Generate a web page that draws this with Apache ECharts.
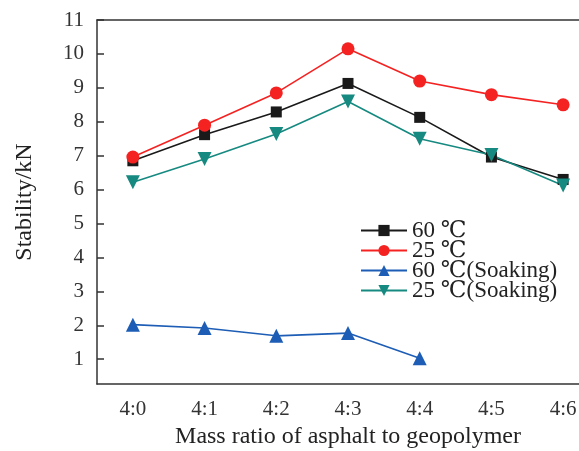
<!DOCTYPE html>
<html><head><meta charset="utf-8">
<script src="https://cdn.jsdelivr.net/npm/echarts@6/dist/echarts.min.js"></script>
<style>html,body{margin:0;padding:0;background:#fff}#c{width:579px;height:451px}</style>
</head><body><div id="c"></div>
<script>
const categories = ['4:0','4:1','4:2','4:3','4:4','4:5','4:6'];
const yTicks = [1,2,3,4,5,6,7,8,9,10,11];
const s60 = [6.85, 7.62, 8.29, 9.13, 8.13, 6.96, 6.3];
const s25 = [6.96, 7.9, 8.85, 10.15, 9.2, 8.8, 8.5];
const s60soak = [2.02, 1.92, 1.69, 1.77, 1.03, null, null];
const s25soak = [6.22, 6.9, 7.64, 8.6, 7.5, 7.02, 6.12];
const names = ['60 ℃','25 ℃','60 ℃(Soaking)','25 ℃(Soaking)'];

const font = '"Liberation Serif", "DejaVu Serif", serif';
const axisCol = '#333';
const chart = echarts.init(document.getElementById('c'));
function ser(name, data, color, symbol, size) {
  return {name, type:'line', data, symbol, symbolSize:size, connectNulls:false,
    lineStyle:{color, width:1.6}, itemStyle:{color}, xAxisIndex:0, yAxisIndex:0};
}
chart.setOption({
  animation:false,
  grid:{left:97, top:20, width:502, height:364, outerBoundsMode:'none', containLabel:false},
  legend:{
    orient:'vertical', left:355, top:214, itemWidth:46, itemHeight:14, itemGap:-3,
    textStyle:{fontFamily:font, fontSize:23, color:'#222'},
    data:names
  },
  xAxis:[{
    type:'category', data:categories, boundaryGap:true, position:'bottom',
    axisLine:{lineStyle:{color:axisCol, width:1.5}},
    axisTick:{alignWithLabel:true, inside:true, length:6, lineStyle:{color:axisCol, width:1.5}},
    axisLabel:{fontFamily:font, fontSize:21, color:'#333', margin:15},
    name:'Mass ratio of asphalt to geopolymer', nameLocation:'middle', nameGap:39,
    nameTextStyle:{fontFamily:font, fontSize:24, color:'#222'},
    splitLine:{show:false}
  },{
    type:'category', data:categories, position:'top',
    axisLine:{show:true, lineStyle:{color:axisCol, width:1.5}},
    axisTick:{show:false}, axisLabel:{show:false}, splitLine:{show:false}
  }],
  yAxis:{
    type:'value', min:0.27, max:11,
    axisLine:{show:true, lineStyle:{color:axisCol, width:1.5}},
    axisTick:{show:true, inside:true, length:7, customValues:yTicks, lineStyle:{color:axisCol, width:1.5}},
    axisLabel:{fontFamily:font, fontSize:21, color:'#333', margin:13, customValues:yTicks},
    splitLine:{show:false},
    name:'Stability/kN', nameLocation:'middle', nameGap:60, nameRotate:90,
    nameTextStyle:{fontFamily:font, fontSize:24, color:'#222'}
  },
  series:[
    ser(names[0], s60, '#1a1a1a', 'rect', 11),
    ser(names[1], s25, '#f52222', 'circle', 13),
    ser(names[2], s60soak, '#1d5db5', 'triangle', 14),
    ser(names[3], s25soak, '#168a80', 'path://M0,0 L10,0 L5,9 Z', 14)
  ]
});
</script></body></html>
